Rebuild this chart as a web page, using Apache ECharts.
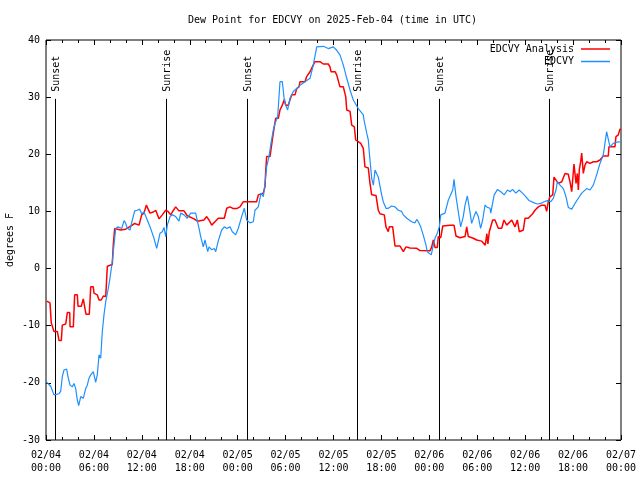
<!DOCTYPE html>
<html><head><meta charset="utf-8">
<script src="https://cdn.jsdelivr.net/npm/echarts@6/dist/echarts.min.js"></script>
<style>html,body{margin:0;padding:0;background:#fff}#c{width:640px;height:480px}</style>
</head><body><div id="c"></div>
<script>
const tickLabels = ['02/04\n00:00','02/04\n06:00','02/04\n12:00','02/04\n18:00','02/05\n00:00','02/05\n06:00','02/05\n12:00','02/05\n18:00','02/06\n00:00','02/06\n06:00','02/06\n12:00','02/06\n18:00','02/07\n00:00'];

const analysisHours = [0.09,0.5,0.66,1.0,1.42,1.63,1.92,2.04,2.47,2.67,2.97,3.01,3.42,3.59,3.92,4.01,4.42,4.67,4.92,5.01,5.42,5.6,5.92,6.01,6.42,6.64,6.92,7.18,7.48,7.68,7.93,8.3,8.43,8.6,8.85,9.35,9.98,10.18,10.8,11.1,11.65,11.86,11.98,12.27,12.56,12.77,13.02,13.44,13.74,14.15,14.56,14.99,15.28,15.62,15.82,16.24,16.65,17.28,17.69,18.53,18.95,19.78,20.12,20.41,20.75,21.16,21.58,22.33,22.63,23.04,23.45,23.88,24.29,24.71,26.38,26.58,27.21,27.42,27.51,27.63,28.05,28.34,28.55,28.76,29.09,29.3,29.59,29.84,30.01,30.34,30.55,30.77,31.18,31.39,31.68,31.81,32.43,32.64,33.06,33.35,33.68,34.31,34.72,35.35,35.56,35.69,36.19,36.4,36.6,36.81,37.23,37.53,37.66,38.07,38.28,38.61,38.78,39.1,39.41,39.73,39.94,40.36,40.57,40.78,41.32,41.61,41.82,42.36,42.57,42.86,42.99,43.41,43.7,44.33,44.74,45.08,45.58,46.42,46.83,48.08,48.3,48.5,48.71,49.0,49.12,49.43,49.68,50.59,51.09,51.34,51.84,52.47,52.68,52.88,53.51,53.93,54.56,55.0,55.21,55.33,55.51,55.93,56.22,56.64,57.06,57.35,57.69,57.89,58.32,58.73,59.02,59.27,59.77,59.98,60.39,60.6,60.94,61.23,61.64,62.07,62.48,62.69,62.9,63.11,63.45,63.61,63.86,64.15,64.58,64.99,65.4,65.61,65.83,66.11,66.37,66.53,66.66,66.78,66.95,67.08,67.28,67.49,67.7,68.12,68.53,68.95,69.37,69.78,70.41,70.49,71.24,71.37,71.66,71.87,72.0];
const analysisDew = [-5.7,-6.0,-9.5,-11.0,-11.0,-12.6,-12.6,-9.9,-9.7,-7.7,-7.7,-10.2,-10.2,-4.6,-4.6,-6.6,-6.6,-5.3,-5.3,-8.0,-8.0,-3.2,-3.2,-4.3,-4.6,-5.5,-5.5,-4.8,-4.9,0.4,0.7,0.7,4.3,7.0,7.0,6.75,6.9,7.2,7.6,7.9,7.6,7.6,9.4,9.7,11.1,11.4,9.7,9.9,10.2,8.7,9.4,10.2,10.0,9.4,9.9,10.8,10.1,10.1,9.25,8.7,8.3,8.5,9.1,8.5,7.6,8.2,8.8,8.8,10.55,10.8,10.5,10.5,10.8,11.7,11.7,12.9,13.2,14.3,17.0,19.6,19.6,22.5,24.5,26.3,26.3,27.75,28.6,29.6,28.6,28.6,29.5,30.4,30.4,31.5,31.8,32.7,32.7,33.6,34.45,35.3,36.2,36.2,35.8,35.8,35.3,34.45,34.45,33.9,33.6,31.8,31.8,30.1,27.75,27.5,25.1,24.8,22.5,22.2,21.9,21.05,17.8,17.6,14.9,12.9,12.8,10.2,9.6,9.4,7.3,6.45,7.3,7.3,3.95,3.95,2.95,3.8,3.6,3.55,3.15,3.1,3.8,5.0,3.7,3.7,5.6,5.4,7.45,7.6,7.6,5.7,5.4,5.6,7.3,5.6,5.3,5.0,4.8,4.1,6.1,4.3,6.45,8.5,8.5,7.05,7.05,8.5,7.6,7.3,8.5,7.3,8.5,6.45,6.75,8.8,8.8,8.6,9.6,10.2,10.8,11.1,11.1,10.0,11.7,12.6,12.9,16.0,16.0,14.9,15.2,16.65,16.5,15.2,13.45,18.3,14.9,16.65,13.75,17.3,18.7,20.2,16.65,18.1,18.7,18.4,18.7,18.7,19.0,19.7,19.7,21.3,21.3,23.1,23.4,24.4,24.4];

const obsHours = [0.09,0.59,1.0,1.21,1.63,1.84,2.04,2.25,2.59,2.75,3.01,3.29,3.51,3.72,3.92,4.09,4.35,4.67,4.97,5.17,5.38,5.6,5.92,6.22,6.42,6.64,6.85,7.05,7.26,7.48,7.76,8.01,8.3,8.51,8.73,9.02,9.27,9.48,9.77,9.98,10.18,10.52,10.81,11.11,11.43,11.73,11.98,12.27,12.68,13.11,13.52,13.86,14.15,14.28,14.56,14.78,14.99,15.19,15.53,15.82,16.24,16.65,16.87,17.28,17.69,18.12,18.74,19.16,19.37,19.7,19.91,20.25,20.41,20.75,21.07,21.25,21.58,22.0,22.33,22.63,23.04,23.33,23.75,24.08,24.5,24.83,25.13,25.54,25.96,26.17,26.58,26.92,27.21,27.42,27.63,27.92,28.17,28.46,28.68,29.01,29.3,29.59,29.84,30.01,30.26,30.55,30.97,31.39,31.81,32.43,33.06,33.47,33.9,34.72,35.35,35.98,36.4,36.81,37.23,37.66,38.07,38.48,39.1,39.73,39.82,40.16,40.36,40.49,40.78,40.99,41.2,41.61,42.03,42.23,42.57,42.86,43.28,43.7,44.11,44.53,44.74,45.17,45.79,46.21,46.42,46.62,46.92,47.25,47.58,47.74,47.99,48.24,48.5,48.71,49.0,49.25,49.43,49.96,50.38,50.59,50.93,51.09,51.34,51.63,51.92,52.25,52.47,52.76,53.09,53.3,53.59,53.84,54.13,54.42,54.68,54.97,55.26,55.6,55.69,56.12,56.54,56.95,57.37,57.79,58.11,58.42,58.83,59.24,59.66,60.08,60.49,61.12,61.54,61.96,62.37,62.79,63.21,63.52,63.86,64.03,64.37,64.78,65.11,65.4,65.83,66.24,66.66,67.08,67.7,68.12,68.53,68.95,69.37,69.78,69.99,70.2,70.41,70.62,71.03,71.66,72.0];
const obsDew = [-19.9,-20.6,-22.1,-21.8,-21.9,-21.5,-18.9,-17.75,-17.6,-18.9,-20.4,-20.7,-20.1,-21.0,-23.0,-24.0,-22.4,-22.7,-21.0,-20.4,-19.2,-18.6,-18.05,-19.9,-18.6,-15.1,-15.7,-11.05,-8.1,-5.8,-3.75,-1.7,1.2,4.1,7.0,7.3,7.6,7.0,8.4,7.9,7.05,6.75,8.5,10.1,10.2,10.4,9.6,9.9,8.5,7.0,5.3,3.55,5.35,6.2,6.45,7.2,5.6,7.6,9.1,9.4,9.1,8.3,9.7,9.4,8.8,9.7,9.7,7.05,5.6,3.8,5.0,2.95,3.8,3.3,3.5,2.95,4.9,6.75,7.3,7.0,7.3,6.45,5.9,7.05,9.1,10.55,8.5,8.0,8.2,10.2,10.8,13.2,12.6,14.9,17.8,19.6,21.9,24.25,25.4,26.6,32.7,32.7,29.5,28.6,27.75,29.8,31.0,31.5,32.1,32.7,33.3,35.6,38.8,38.9,38.5,38.8,38.2,37.4,35.6,33.3,31.25,29.5,28.0,26.9,26.0,23.7,22.5,20.2,15.8,14.6,17.25,16.0,12.9,11.7,10.55,10.55,10.95,10.8,10.2,10.0,9.4,8.8,8.2,8.0,8.6,8.2,7.3,5.8,4.1,2.95,3.25,2.4,4.1,5.3,6.2,7.3,9.4,9.7,12.0,12.3,13.75,15.6,12.6,9.9,7.3,9.1,11.1,12.7,9.9,7.9,9.1,10.0,9.1,7.05,8.5,11.1,10.7,10.55,9.7,12.9,13.85,13.45,12.9,13.75,13.45,13.85,13.2,13.75,13.2,12.6,11.9,11.5,11.3,11.4,11.7,11.9,11.7,12.3,13.75,15.2,14.6,14.0,12.6,10.7,10.4,11.4,12.3,13.2,14.0,13.75,14.6,16.4,18.4,19.9,21.9,23.95,23.7,21.3,21.9,22.2,22.1];

const sunHours = [1.13, 15.04, 25.2, 38.96, 49.2, 63.0];
const sunLabels = ['Sunset', 'Sunrise', 'Sunset', 'Sunrise', 'Sunset', 'Sunrise'];
const sunTop = 29.7;

const FONT = '"DejaVu Sans Mono", monospace';
const zip = (a, b) => a.map((v, i) => [v, b[i]]);

const chart = echarts.init(document.getElementById('c'), null, {renderer: 'canvas'});
const xCommon = {
  type: 'value', min: 0, max: 72, interval: 6,
  axisLine: {show: false, onZero: false},
  splitLine: {show: false},
  axisTick: {show: true, inside: true, length: 5, lineStyle: {color: '#000', width: 1}},
  minorTick: {show: true, splitNumber: 3, length: 3, lineStyle: {color: '#000', width: 1}}
};
const yCommon = {
  type: 'value', min: -30, max: 40, interval: 10,
  axisLine: {show: false, onZero: false},
  splitLine: {show: false},
  axisTick: {show: true, inside: true, length: 5, lineStyle: {color: '#000', width: 1}}
};
const legendCommon = {
  right: 30, padding: 0, align: 'right', icon: 'rect', itemWidth: 29, itemHeight: 1.5, itemGap: 0,
  textStyle: {fontFamily: FONT, fontSize: 10, color: '#000', padding: [0, 2, 0, 0]}
};
chart.setOption({
  animation: false,
  backgroundColor: '#fff',
  title: {
    text: 'Dew Point for EDCVY on 2025-Feb-04 (time in UTC)',
    left: 188, top: 15, padding: 0,
    textStyle: {fontFamily: FONT, fontSize: 10, fontWeight: 'normal', color: '#000'}
  },
  legend: [
    Object.assign({}, legendCommon, {data: ['EDCVY Analysis'], top: 44}),
    Object.assign({}, legendCommon, {data: ['EDCVY'], top: 56.5})
  ],
  grid: {left: 46, right: 19, top: 40, bottom: 40, outerBoundsMode: 'none', containLabel: false,
         show: true, borderColor: '#000', borderWidth: 1, backgroundColor: 'transparent'},
  xAxis: [
    Object.assign({}, xCommon, {
      position: 'bottom',
      axisLabel: {show: true, margin: 9, fontFamily: FONT, fontSize: 10, color: '#000', lineHeight: 13,
        showMinLabel: true, showMaxLabel: true, hideOverlap: false,
        formatter: v => tickLabels[Math.round(v / 6)]}
    }),
    Object.assign({}, xCommon, {position: 'top', axisLabel: {show: false}})
  ],
  yAxis: [
    Object.assign({}, yCommon, {
      position: 'left',
      name: 'degrees F', nameLocation: 'middle', nameGap: 31, nameRotate: 90, nameMoveOverlap: false,
      nameTextStyle: {fontFamily: FONT, fontSize: 10, color: '#000'},
      axisLabel: {show: true, margin: 6, fontFamily: FONT, fontSize: 10, color: '#000'}
    }),
    Object.assign({}, yCommon, {position: 'right', axisLabel: {show: false}})
  ],
  series: [
    {
      type: 'custom', name: 'sun', xAxisIndex: 0, yAxisIndex: 0, silent: true, clip: false,
      data: sunHours.map(h => [h, sunTop]),
      renderItem: function (params, api) {
        const h = api.value(0);
        const p0 = api.coord([h, -30]);
        const p1 = api.coord([h, sunTop]);
        const x = Math.round(p0[0]) + 0.5;
        return {type: 'group', children: [
          {type: 'line', shape: {x1: x, y1: p0[1], x2: x, y2: p1[1]}, style: {stroke: '#000', lineWidth: 1}},
          {type: 'text', x: x + 1, y: p1[1] - 7, rotation: Math.PI / 2,
           style: {text: sunLabels[params.dataIndex], font: '10px ' + FONT, fill: '#000', align: 'left', verticalAlign: 'middle'}}
        ]};
      }
    },
    {
      type: 'line', name: 'EDCVY Analysis', xAxisIndex: 0, yAxisIndex: 0,
      data: zip(analysisHours, analysisDew), symbol: 'none', showSymbol: false,
      lineStyle: {color: '#ff0000', width: 1.5}, itemStyle: {color: '#ff0000'}
    },
    {
      type: 'line', name: 'EDCVY', xAxisIndex: 0, yAxisIndex: 0,
      data: zip(obsHours, obsDew), symbol: 'none', showSymbol: false,
      lineStyle: {color: '#1e90ff', width: 1.2}, itemStyle: {color: '#1e90ff'}
    }
  ]
});
</script>
</body></html>
